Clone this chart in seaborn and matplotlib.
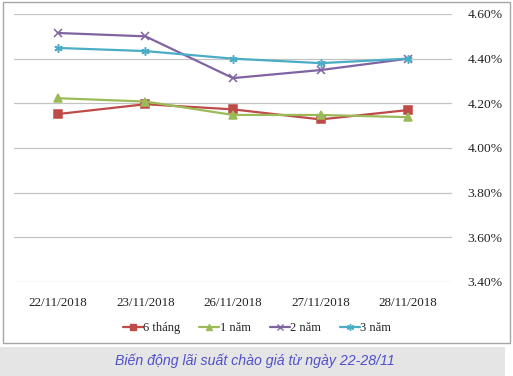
import matplotlib
matplotlib.use("Agg")
import matplotlib.pyplot as plt
import seaborn as sns
import pandas as pd
from matplotlib.patches import Rectangle
from matplotlib.ticker import FuncFormatter
from matplotlib.lines import Line2D

dates = ["22/11/2018", "23/11/2018", "26/11/2018", "27/11/2018", "28/11/2018"]
series_names = ["6 tháng", "1 năm", "2 năm", "3 năm"]
s_6thang = [4.152, 4.196, 4.173, 4.128, 4.170]
s_1nam = [4.223, 4.208, 4.148, 4.148, 4.138]
s_2nam = [4.515, 4.500, 4.313, 4.349, 4.400]
s_3nam = [4.448, 4.434, 4.400, 4.380, 4.400]
y_ticks = [3.40, 3.60, 3.80, 4.00, 4.20, 4.40, 4.60]
caption = "Biến động lãi suất chào giá từ ngày 22-28/11"

colors = ["#BE4B48", "#9BBB59", "#8064A2", "#4BACC6"]
markers = ["s", "^", "x", (6, 2, 0)]

sns.set_theme(style="white")
plt.rcParams["font.family"] = ["Liberation Serif", "DejaVu Serif"]

fig = plt.figure(figsize=(5.13, 3.76), dpi=100)
W, H = 513, 376

# caption band
fig.patches.append(Rectangle((0, 0), 505 / W, 29 / H, transform=fig.transFigure,
                             facecolor="#E5E5E5", edgecolor="none", zorder=-2))
# chart border
fig.patches.append(Rectangle((2.5 / W, 1 - 343 / H), 507 / W, 341 / H,
                             transform=fig.transFigure, facecolor="white",
                             edgecolor="#A6A6A6", linewidth=1, zorder=-2))

ax = fig.add_axes([14 / W, 1 - 282 / H, (452 - 14) / W, (282 - 14) / H])
ax.set_facecolor("none")

for name, vals, c, m in zip(series_names, [s_6thang, s_1nam, s_2nam, s_3nam], colors, markers):
    d = pd.DataFrame({"date": dates, "value": vals})
    sns.lineplot(data=d, x="date", y="value", color=c, marker=m, markersize=6,
                 linewidth=1.6, markeredgewidth=1.1, markeredgecolor=c,
                 markerfacecolor=c, ax=ax, sort=False)

ax.set_ylim(3.40, 4.60)
ax.set_xlim(-0.5, 4.5)
ax.set_yticks(y_ticks)
ax.yaxis.set_major_formatter(FuncFormatter(lambda v, p: f"{v:.2f}%"))
ax.yaxis.tick_right()
ax.grid(axis="y", color="#C3C3C3", linewidth=0.9)
ax.set_axisbelow(True)
for s in ax.spines.values():
    s.set_visible(False)
ax.tick_params(axis="both", length=0, labelsize=9.4, colors="#222222")
ax.tick_params(axis="y", pad=11, labelsize=9.7)
ax.tick_params(axis="x", pad=11)
ax.set_xlabel("")
ax.set_ylabel("")

handles = [Line2D([], [], color=c, marker=m, markersize=5, linewidth=1.6,
                  markerfacecolor=c, markeredgecolor=c, markeredgewidth=1.0)
           for c, m in zip(colors, markers)]
fig.legend(handles, series_names, loc="center", bbox_to_anchor=(257 / W, 1 - 328 / H),
           ncol=4, frameon=False, fontsize=9, handlelength=1.6, handletextpad=0.05,
           columnspacing=1.5, labelcolor="#222222")

fig.text(255 / W, 15 / H, caption, ha="center", va="center", fontsize=10.2,
         style="italic", color="#5050C8", family=["Liberation Sans", "DejaVu Sans"])

fig.savefig("out.png", dpi=100)
